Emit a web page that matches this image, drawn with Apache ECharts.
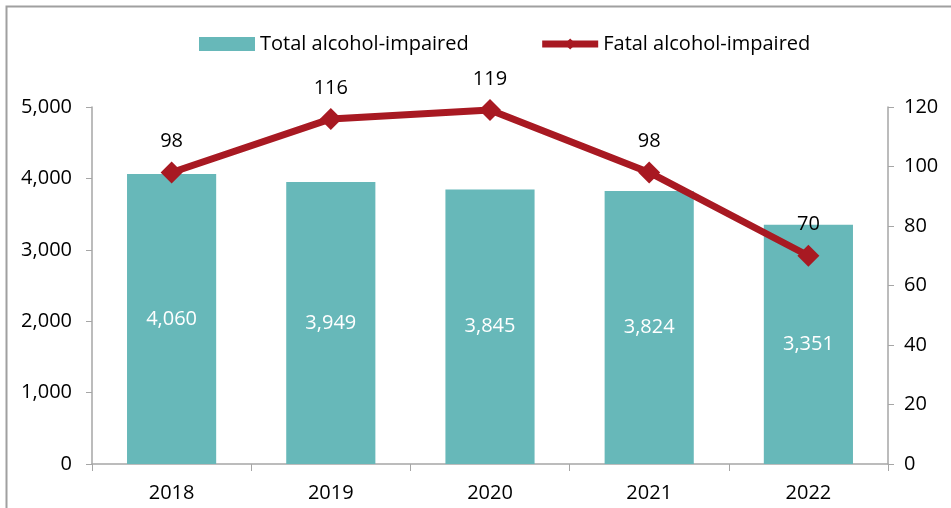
<!DOCTYPE html>
<html>
<head>
<meta charset="utf-8">
<script src="https://cdn.jsdelivr.net/npm/echarts@6/dist/echarts.min.js"></script>
<style>
html,body{margin:0;padding:0;background:#fff;}
#chart{width:951px;height:508px;}
</style>
</head>
<body>
<div id="chart"></div>
<script>
const categories = ['2018', '2019', '2020', '2021', '2022'];
const totalImpaired = [4060, 3949, 3845, 3824, 3351];
const fatalImpaired = [98, 116, 119, 98, 70];
const leftTicks = { min: 0, max: 5000, interval: 1000 };
const rightTicks = { min: 0, max: 120, interval: 20 };

const FONT = '"Open Sans", "Liberation Sans", Arial, sans-serif';
const FS = 20;
const chart = echarts.init(document.getElementById('chart'));
const axisGray = '#a6a6a6';
const red = '#a81922';
chart.setOption({
  animation: false,
  textStyle: { fontFamily: FONT },
  graphic: [{
    type: 'polyline',
    shape: { points: [[6.5, 520], [6.5, 6.5], [960, 6.5]] },
    style: { stroke: '#a0a0a0', lineWidth: 2, fill: null }
  }],
  legend: {
    top: 29,
    left: 194,
    itemGap: 70,
    textStyle: { fontSize: FS, color: '#000', fontFamily: FONT },
    data: [
      { name: 'Total alcohol-impaired', icon: 'rect' },
      { name: 'Fatal alcohol-impaired', lineStyle: { width: 7, color: red } }
    ],
    itemWidth: 56,
    itemHeight: 14
  },
  grid: { left: 92, right: 63, top: 107, bottom: 44 },
  xAxis: {
    type: 'category',
    data: categories,
    axisLine: { lineStyle: { color: axisGray, width: 1.5 } },
    axisTick: { show: true, length: 7, lineStyle: { color: axisGray } },
    axisLabel: { fontSize: FS, color: '#000', margin: 19, fontFamily: FONT }
  },
  yAxis: [{
    type: 'value',
    min: leftTicks.min, max: leftTicks.max, interval: leftTicks.interval,
    axisLine: { show: true, lineStyle: { color: axisGray, width: 1.5 } },
    axisTick: { show: true, length: 6, lineStyle: { color: axisGray } },
    splitLine: { show: false },
    axisLabel: {
      fontSize: FS, color: '#000', margin: 20, fontFamily: FONT,
      formatter: v => v.toLocaleString('en-US')
    }
  }, {
    type: 'value',
    min: rightTicks.min, max: rightTicks.max, interval: rightTicks.interval,
    position: 'right',
    axisLine: { show: true, lineStyle: { color: axisGray, width: 1.5 } },
    axisTick: { show: true, inside: false, length: 6, lineStyle: { color: axisGray } },
    splitLine: { show: false },
    axisLabel: { fontSize: FS, color: '#000', margin: 16, fontFamily: FONT }
  }],
  series: [{
    name: 'Total alcohol-impaired',
    type: 'bar',
    data: totalImpaired,
    barWidth: '56%',
    itemStyle: { color: '#67b8b9' },
    label: {
      show: true, position: 'inside', color: '#fff', fontSize: FS, fontFamily: FONT,
      formatter: p => p.value.toLocaleString('en-US')
    }
  }, {
    name: 'Fatal alcohol-impaired',
    type: 'line',
    yAxisIndex: 1,
    data: fatalImpaired,
    symbol: 'diamond',
    symbolSize: 22,
    lineStyle: { color: red, width: 7 },
    itemStyle: { color: red },
    label: { show: true, position: 'top', distance: 10, color: '#000', fontSize: FS, fontFamily: FONT }
  }]
});
</script>
</body>
</html>
